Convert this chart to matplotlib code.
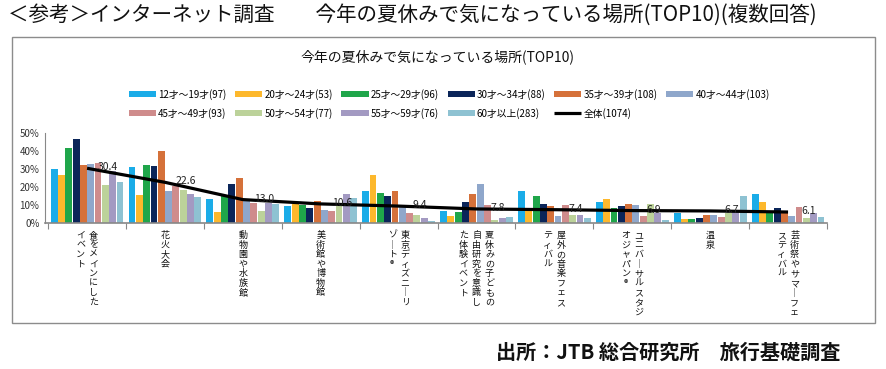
import matplotlib
matplotlib.use('Agg')
import numpy as np
import matplotlib.pyplot as plt
from matplotlib.patches import Rectangle

plt.rcParams['font.family'] = ['Noto Sans CJK JP', 'DejaVu Sans']

# categories (vertical labels, one string per column, right column first)
categories = [
    ["食をメインにした", "イベント"],
    ["花火大会"],
    ["動物園や水族館"],
    ["美術館や博物館"],
    ["東京ディズニーリ", "ゾート®"],
    ["夏休みの子どもの", "自由研究を意識し", "た体験イベント"],
    ["屋外の音楽フェス", "ティバル"],
    ["ユニバーサルスタジ", "オジャパン®"],
    ["温泉"],
    ["芸術祭やサマーフェ", "スティバル"],
]

age_groups = ["12才～19才(97)", "20才～24才(53)", "25才～29才(96)", "30才～34才(88)",
              "35才～39才(108)", "40才～44才(103)", "45才～49才(93)", "50才～54才(77)",
              "55才～59才(76)", "60才以上(283)"]
total_label = "全体(1074)"

age_12_19 = [30.0, 30.9, 13.5, 9.6, 17.6, 6.5, 17.8, 11.5, 5.6, 15.9]
age_20_24 = [26.5, 15.4, 6.1, 10.5, 26.5, 4.1, 6.9, 13.5, 2.2, 11.7]
age_25_29 = [41.7, 32.2, 14.8, 9.8, 16.9, 6.3, 15.0, 8.5, 2.4, 6.1]
age_30_34 = [46.5, 31.9, 21.7, 8.1, 15.2, 11.7, 10.6, 9.4, 2.6, 8.5]
age_35_39 = [32.4, 39.8, 25.0, 12.2, 18.0, 15.9, 9.6, 10.6, 4.3, 5.4]
age_40_44 = [33.0, 17.6, 12.0, 7.2, 9.5, 21.5, 4.1, 10.2, 4.4, 4.1]
age_45_49 = [33.3, 20.5, 11.1, 6.9, 5.7, 10.0, 10.2, 3.7, 3.5, 9.1]
age_50_54 = [20.9, 18.5, 6.9, 9.3, 4.3, 1.5, 4.3, 10.7, 5.6, 3.0]
age_55_59 = [28.7, 16.1, 10.9, 16.1, 2.8, 3.0, 4.4, 5.6, 6.1, 5.6]
age_60_up = [23.0, 14.3, 10.6, 13.7, 1.3, 3.5, 2.6, 1.7, 15.2, 3.5]
total = [30.4, 22.6, 13.0, 10.6, 9.4, 7.8, 7.4, 6.9, 6.7, 6.1]

series = [age_12_19, age_20_24, age_25_29, age_30_34, age_35_39,
          age_40_44, age_45_49, age_50_54, age_55_59, age_60_up]
colors = ['#1AACE8', '#FDB82C', '#1FA64A', '#0B2559', '#D5713A',
          '#8FA7CB', '#CF8C8C', '#BCD29A', '#A39AC2', '#8EC2D2']

W, H = 887, 369
fig = plt.figure(figsize=(W / 100, H / 100), dpi=100)

# outer frame of the chart
fig.patches.append(Rectangle((12 / W, 1 - 323 / H), 863 / W, 286 / H, transform=fig.transFigure,
                             fill=False, edgecolor='#8c8c8c', linewidth=1.0))

ax = fig.add_axes([45 / W, 1 - 223 / H, 782 / W, 90 / H])
x = np.arange(len(categories))
step = 0.094
handles = []
for k, vals in enumerate(series):
    b = ax.bar(x + (k - 4.5) * step, vals, width=step * 0.94, color=colors[k], zorder=2)
    handles.append(b)
ln, = ax.plot(x, total, color='black', linewidth=2.3, zorder=3, solid_capstyle='butt')
for xi, v in zip(x, total):
    ax.annotate(f"{v:.1f}", xy=(xi, v), xytext=(21, 1), textcoords='offset pixels',
                ha='center', va='center', fontsize=7.5, color='#222222', zorder=4)

ax.set_xlim(-0.54, 9.5)
ax.set_ylim(0, 50)
ax.set_yticks([0, 10, 20, 30, 40, 50])
ax.set_yticklabels([f"{t}%" for t in range(0, 60, 10)], fontsize=7, color='#333333')
ax.set_xticks(np.arange(-0.5, 10, 1))
ax.set_xticklabels([])
ax.tick_params(axis='x', length=4, color='#888888', direction='out')
ax.tick_params(axis='y', length=0, pad=4)
for s in ['top', 'right']:
    ax.spines[s].set_visible(False)
ax.spines['left'].set_color('#888888')
ax.spines['bottom'].set_color('#888888')
ax.spines['bottom'].set_linewidth(1.2)

# vertical category labels
for i, cols in enumerate(categories):
    n = len(cols)
    for j, col in enumerate(cols):
        dx = ((n - 1) / 2 - j) * 13
        txt = "\n".join(col.replace("ー", "｜"))
        ax.annotate(txt, xy=(i, 0), xycoords=('data', 'axes fraction'), xytext=(dx, -8),
                    textcoords='offset pixels', ha='center', va='top', fontsize=6.5,
                    linespacing=1.08, color='#111111')

# legend, filled row by row
labels = age_groups + [total_label]
hs = handles + [ln]
order = [0, 6, 1, 7, 2, 8, 3, 9, 4, 10, 5]
fig.legend([hs[i] for i in order], [labels[i] for i in order], ncol=6, frameon=False,
           loc='upper left', bbox_to_anchor=(125 / W, 1 - 85 / H), fontsize=7,
           handlelength=2.8, handleheight=0.6, handletextpad=0.2, columnspacing=0.9,
           labelspacing=0.8, borderaxespad=0)

fig.text(438 / W, 1 - 57 / H, "今年の夏休みで気になっている場所(TOP10)", ha='center', va='center',
         fontsize=10, color='#111111')
fig.text(8 / W, 1 - 15 / H, "＜参考＞インターネット調査　　今年の夏休みで気になっている場所(TOP10)(複数回答)",
         ha='left', va='center', fontsize=14.8, color='#111111')
fig.text(840 / W, 1 - 352 / H, "出所：JTB 総合研究所　旅行基礎調査", ha='right', va='center',
         fontsize=14.5, fontweight='bold', color='#111111')

fig.savefig('out.png', dpi=100)
